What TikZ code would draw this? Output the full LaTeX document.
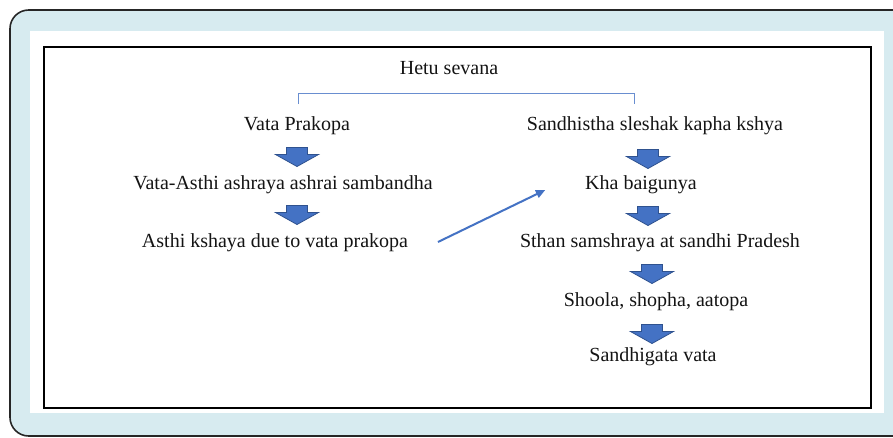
\documentclass[tikz,border=0pt]{standalone}
\usepackage{fontspec}
\setmainfont{Liberation Serif}
\usetikzlibrary{calc,arrows.meta}
\definecolor{frameBlue}{RGB}{215,235,240}
\definecolor{flowBlue}{RGB}{68,114,196}
\definecolor{flowBlueDark}{RGB}{47,82,143}
\definecolor{txtgray}{RGB}{20,20,20}

\tikzset{
  step text/.style={text=txtgray, font=\fontsize{15}{18}\selectfont, inner sep=2pt},
  blockdown/.pic={
    \draw[flowBlueDark, fill=flowBlue, line width=0.6pt]
      (-10.5,-9.5) -- (10.5,-9.5) -- (10.5,-2.5) -- (21.5,-2.5)
      -- (0,9.5) -- (-21.5,-2.5) -- (-10.5,-2.5) -- cycle;
  },
  bracket/.style={flowBlue!80, line width=0.6pt},
  linkarrow/.style={flowBlue, line width=1.5pt, -{Triangle[length=7pt,width=6pt]}}
}

\begin{document}
\begin{tikzpicture}[x=0.75pt,y=-0.75pt]
    \useasboundingbox (0,0) rectangle (893,437);

    % background frame
    \draw[black!85, line width=1.2pt, fill=frameBlue, rounded corners=14pt] (10,10) rectangle (920,436);
    \fill[white] (30,31) rectangle (884,413);
    \draw[black, line width=1.5pt] (44,47) rectangle (871,408);

    % heading and bracket
    \node[step text] (hetu) at (449,68) {Hetu sevana};
    \coordinate (bl) at (298,104);
    \coordinate (br) at (634,104);
    \draw[bracket] (bl) -- ++(0,-11) -| (br);

    % left chain
    \node[step text] (vp)  at (297,126) {Vata Prakopa};
    \node[step text] (vas) at (283,185) {Vata-Asthi ashraya ashrai sambandha};
    \node[step text] (ak)  at (275,243) {Asthi kshaya due to vata prakopa};
    \pic at (297,157) {blockdown};
    \pic at (297,215) {blockdown};

    % right chain
    \node[step text] (skk) at (655,126) {Sandhistha sleshak kapha kshya};
    \node[step text] (kb)  at (641,185) {Kha baigunya};
    \node[step text] (ssp) at (660,243) {Sthan samshraya at sandhi Pradesh};
    \node[step text] (ssa) at (656,302) {Shoola, shopha, aatopa};
    \node[step text] (sv)  at (653,357) {Sandhigata vata};
    \pic at (648,159) {blockdown};
    \pic at (648,216) {blockdown};
    \pic at (652,274) {blockdown};
    \pic at (652,334) {blockdown};

    % cross link
    \draw[linkarrow] ($(ak.east)+(27,-1)$) -- ($(kb.west)+(-37,5)$);
\end{tikzpicture}
\end{document}
